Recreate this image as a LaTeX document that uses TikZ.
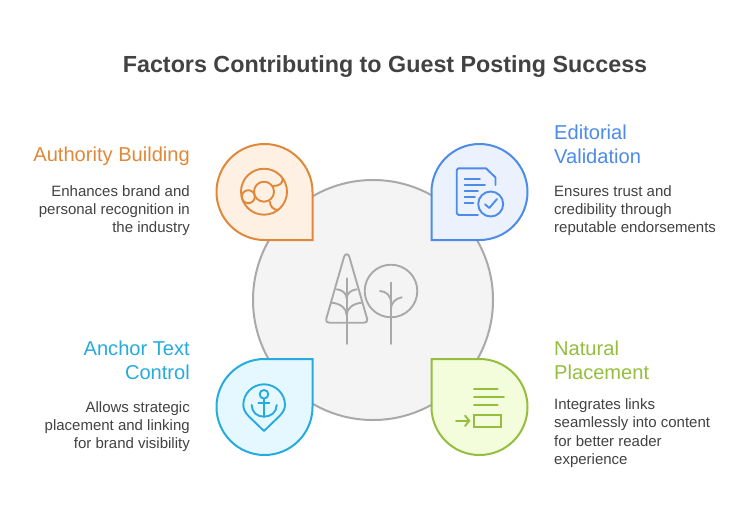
\documentclass[tikz,border=0pt]{standalone}
\usepackage{fontspec}
\setmainfont{Liberation Sans}
\definecolor{inktext}{HTML}{424242}
\definecolor{hubline}{HTML}{A9A9A9}
\definecolor{hubfill}{HTML}{F4F4F4}
\definecolor{orangeline}{HTML}{E0883A}
\definecolor{orangefill}{HTML}{FEF1E4}
\definecolor{blueline}{HTML}{4C8BE8}
\definecolor{bluefill}{HTML}{EBF2FE}
\definecolor{cyanline}{HTML}{25ABDD}
\definecolor{cyanfill}{HTML}{E6F8FF}
\definecolor{greenline}{HTML}{96BE3E}
\definecolor{greenfill}{HTML}{F3FDDC}
\tikzset{titletext/.style = {inner sep=0pt,
                             color = inktext,
                             font=\fontsize{23.3}{28}\selectfont\bfseries},
         headtext/.style = {inner sep=0pt,
                            font=\fontsize{20.1}{24}\selectfont},
         bodytext/.style = {inner sep=0pt,
                            color = inktext,
                            font=\fontsize{15}{18.3}\selectfont},
         drop/.style = {line width=2pt, line join=miter},
         icon/.style = {line width=1.9pt, line cap=round, line join=round}}

\begin{document}
\begin{tikzpicture}[x=1pt,y=-1pt]
		\path[use as bounding box, fill=white] (0,0) rectangle (744,517);

		\node[titletext] (title) at (385,66.5) {Factors Contributing to Guest Posting Success};

		\draw[line width=2pt, color=hubline, fill=hubfill] (373,300) circle (120);

		\draw[drop, color=orangeline, fill=orangefill] (312.5,240) -- (264.5,240) arc (90:360:48) -- cycle;
		\draw[drop, color=blueline, fill=bluefill] (431.5,240) -- (479.5,240) arc (90:-180:48) -- cycle;
		\draw[drop, color=cyanline, fill=cyanfill] (312.5,359) -- (264.5,359) arc (-90:-360:48) -- cycle;
		\draw[drop, color=greenline, fill=greenfill] (431.5,359) -- (479.5,359) arc (-90:180:48) -- cycle;

		\draw[icon, color=hubline] (344.1,256.7) .. controls (345,253.5) and (348.4,253.5) .. (349.3,256.7) -- (367.2,319) .. controls (368,321.5) and (366,322.7) .. (364,322.7) -- (329.5,322.7) .. controls (327,322.7) and (325.5,321.5) .. (326.2,319) -- cycle;
		\draw[icon, color=hubline] (346.7,278.3) -- (346.7,344);
		\draw[icon, color=hubline] (336.7,289.3) .. controls (342,290) and (346.7,293) .. (346.7,298.3);
		\draw[icon, color=hubline] (356.7,289.3) .. controls (351.4,290) and (346.7,293) .. (346.7,298.3);
		\draw[icon, color=hubline] (331.7,302.7) .. controls (340,303.5) and (346.7,308) .. (346.7,315);
		\draw[icon, color=hubline] (361.7,302.7) .. controls (353.4,303.5) and (346.7,308) .. (346.7,315);
		\draw[icon, color=hubline] (391,291) circle (26.3);
		\draw[icon, color=hubline] (391,282.7) -- (391,344);
		\draw[icon, color=hubline] (380,291) .. controls (386,291.5) and (391,295) .. (391,303.3);
		\draw[icon, color=hubline] (401.7,297.3) .. controls (396,298.5) and (391,302) .. (391,309.3);

		\draw[icon, color=orangeline] (264,191.7) circle (23);
		\draw[icon, color=orangeline] (264,191.7) circle (10);
		\draw[icon, color=orangeline] (248.3,196.7) circle (6.5);
		\draw[icon, color=orangeline] (272.7,186) .. controls (279,186) and (282.7,184) .. (282.7,178.3);
		\draw[icon, color=orangeline] (270,201.7) .. controls (270,206) and (273,210) .. (278.3,210);

		\draw[icon, color=blueline] (478,215) -- (458.5,215) .. controls (457.3,215) and (456.7,214.4) .. (456.7,213.2) -- (456.7,170) .. controls (456.7,168.9) and (457.3,168.3) .. (458.5,168.3) -- (486,168.3) -- (495.5,177.5) -- (495.5,185);
		\draw[icon, color=blueline] (464.7,179) -- (480,179);
		\draw[icon, color=blueline] (464.7,184.7) -- (485,184.7);
		\draw[icon, color=blueline] (464.7,190.7) -- (478,190.7);
		\draw[icon, color=blueline] (464.7,196.7) -- (475,196.7);
		\draw[icon, color=blueline] (464.7,202.7) -- (473.3,202.7);
		\draw[icon, color=blueline] (490.7,204) circle (12.5);
		\draw[icon, color=blueline] (485,204.3) -- (489.3,208) -- (497,199);

		\draw[icon, color=cyanline] (264,431) -- (249.5,417) .. controls (245.8,413.5) and (243.3,409.5) .. (243.3,405) .. controls (243.3,393.5) and (252.6,384.3) .. (264,384.3) .. controls (275.4,384.3) and (285,393.5) .. (285,405) .. controls (285,409.5) and (282.2,413.5) .. (278.5,417) -- cycle;
		\draw[icon, color=cyanline] (264,394.3) circle (4.3);
		\draw[icon, color=cyanline] (264,398.7) -- (264,416.7);
		\draw[icon, color=cyanline] (258.3,403.3) -- (269.3,403.3);
		\draw[icon, color=cyanline] (251.7,405) .. controls (251.7,412) and (257,416.7) .. (264,416.7) .. controls (271,416.7) and (276.7,412) .. (276.7,405);

		\draw[icon, color=greenline] (474,389) -- (497.7,389);
		\draw[icon, color=greenline] (474,397) -- (504,397);
		\draw[icon, color=greenline] (474,405) -- (497.7,405);
		\draw[icon, color=greenline, line join=miter] (474.3,414.7) rectangle (501.3,427);
		\draw[icon, color=greenline] (456,420.7) -- (469.3,420.7);
		\draw[icon, color=greenline] (465,415.7) -- (469.3,420.7) -- (465,426);

		\node[headtext, color=orangeline, anchor=east, align=right] (authhead) at (190,156.5) {Authority Building};
		\node[bodytext, anchor=east, align=right] (authbody) at (190,210.5) {Enhances brand and\\personal recognition in\\the industry};
		\node[headtext, color=blueline, anchor=west, align=left] (edithead) at (554,144.5) {Editorial\\Validation};
		\node[bodytext, anchor=west, align=left] (editbody) at (554,210.5) {Ensures trust and\\credibility through\\reputable endorsements};
		\node[headtext, color=cyanline, anchor=east, align=right] (anchhead) at (190,360.5) {Anchor Text\\Control};
		\node[bodytext, anchor=east, align=right] (anchbody) at (190,426.5) {Allows strategic\\placement and linking\\for brand visibility};
		\node[headtext, color=greenline, anchor=west, align=left] (natuhead) at (554,360.5) {Natural\\Placement};
		\node[bodytext, anchor=west, align=left] (natubody) at (554,433) {Integrates links\\seamlessly into content\\for better reader\\experience};
	\end{tikzpicture}
\end{document}
